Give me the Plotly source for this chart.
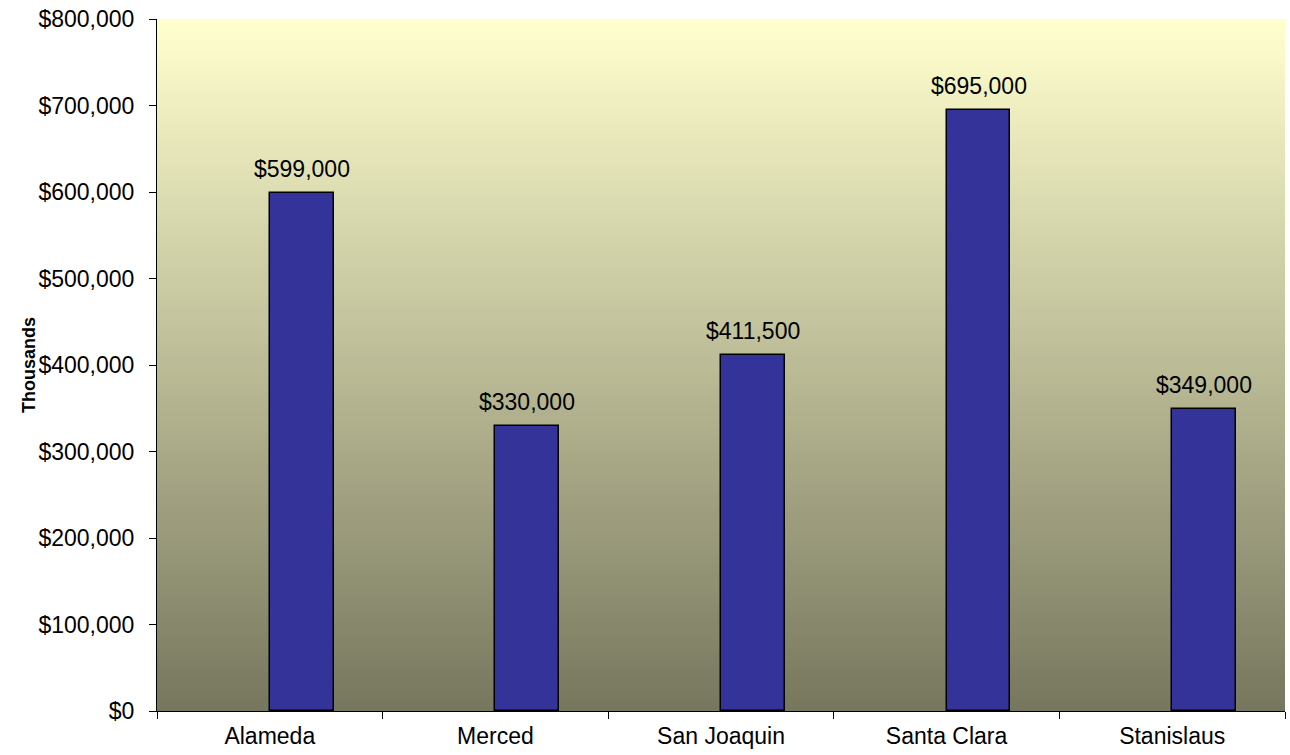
import plotly.graph_objects as go

counties = ["Alameda", "Merced", "San Joaquin", "Santa Clara", "Stanislaus"]
median_price = [599000, 330000, 411500, 695000, 349000]
y_ticks = [0, 100000, 200000, 300000, 400000, 500000, 600000, 700000, 800000]
y_tick_text = ["$0", "$100,000", "$200,000", "$300,000", "$400,000",
               "$500,000", "$600,000", "$700,000", "$800,000"]

FONT = "Liberation Sans, Arial, sans-serif"
SIZE = 23
BAR_W = 0.283  # bar width in category units; bars start at the category centre

fig = go.Figure()
fig.add_trace(go.Bar(
    x=counties,
    y=median_price,
    width=BAR_W,
    offset=0,
    marker=dict(color="#333399", line=dict(color="#000000", width=1.5)),
    hoverinfo="x+y",
))

# value labels above each bar
annotations = []
for i, v in enumerate(median_price):
    annotations.append(dict(
        x=i + BAR_W / 2, y=v, xref="x", yref="y",
        text=f"${v:,}", showarrow=False,
        xanchor="center", yanchor="bottom", yshift=9,
        font=dict(family=FONT, size=SIZE, color="#000000"),
    ))
annotations.append(dict(
    text="<b>Thousands</b>", xref="paper", yref="paper",
    x=(17 - 157) / 1128, y=0.5, textangle=-90, showarrow=False,
    font=dict(family=FONT, size=18, color="#000000"),
))

# vertical gradient behind the plot area: pale yellow at top to olive grey at bottom
top = (255, 255, 206)
bottom = (119, 119, 95)
n = 150
shapes = []
for i in range(n):
    t = i / (n - 1)
    c = tuple(round(top[k] + (bottom[k] - top[k]) * t) for k in range(3))
    # each band reaches down to the bottom; the next band covers the rest, so no seams
    shapes.append(dict(
        type="rect", xref="paper", yref="paper",
        x0=0, x1=1, y0=0, y1=1 - i / n,
        fillcolor=f"rgb{c}", line=dict(width=0), layer="below",
    ))

fig.update_layout(
    width=1290, height=755,
    margin=dict(l=157, r=5, t=19, b=44),
    paper_bgcolor="white",
    plot_bgcolor="rgba(0,0,0,0)",
    showlegend=False,
    shapes=shapes,
    annotations=annotations,
    font=dict(family=FONT, size=SIZE, color="#000000"),
    bargap=0,
)
fig.update_xaxes(
    type="category",
    tickson="boundaries",
    ticks="outside", ticklen=7, tickcolor="#000000", tickwidth=1,
    ticklabelstandoff=4,
    showline=True, linecolor="#000000", linewidth=1,
    showgrid=False, zeroline=False,
    tickfont=dict(family=FONT, size=SIZE, color="#000000"),
    range=[-0.5, 4.5],
)
fig.update_yaxes(
    range=[0, 800000],
    tickvals=y_ticks, ticktext=y_tick_text,
    ticks="outside", ticklen=7, tickcolor="#000000", tickwidth=1,
    ticklabelstandoff=10,
    showline=True, linecolor="#000000", linewidth=1,
    showgrid=False, zeroline=False,
    tickfont=dict(family=FONT, size=SIZE, color="#000000"),
)

fig.write_html("out.html")
